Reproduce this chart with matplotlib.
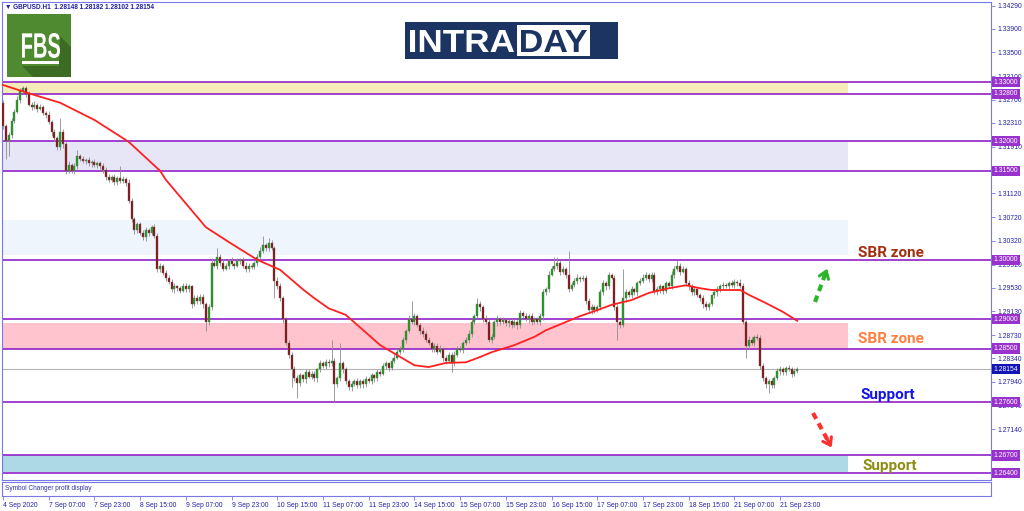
import numpy as np
import matplotlib
matplotlib.use("Agg")
import matplotlib.pyplot as plt
from matplotlib.font_manager import FontProperties
from matplotlib.textpath import TextPath
from matplotlib.patches import PathPatch, Rectangle, Polygon
from matplotlib.transforms import Affine2D, blended_transform_factory

W, H = 1024, 511

# hourly closes, in pips above 1.0000 (3225 -> 1.3225)
open_first = 3265
closes = [
    3225, 3200, 3210, 3235, 3250, 3270, 3285, 3290, 3280, 3262, 3258, 3262, 3255, 3258, 3248, 3245, 3232, 3215, 3205, 3190,
    3215, 3195, 3150, 3160, 3150, 3158, 3175, 3170, 3166, 3168, 3163, 3165, 3160, 3163, 3158, 3152, 3140, 3135, 3140, 3132,
    3138, 3133, 3137, 3130, 3100, 3068, 3050, 3060, 3045, 3038, 3050, 3045, 3055, 3040, 2985, 2990, 2978, 2970, 2962, 2950,
    2955, 2952, 2948, 2955, 2950, 2955, 2925, 2935, 2930, 2938, 2925, 2895, 2920, 2995, 2990, 3005, 2995, 2985, 2990, 2998,
    2993, 2990, 2998, 3000, 2990, 2985, 2990, 2988, 2995, 3005, 3015, 3025, 3020, 3028, 3020, 2965, 2955, 2935, 2900, 2860,
    2840, 2815, 2800, 2792, 2805, 2798, 2810, 2803, 2808, 2800, 2815, 2825, 2820, 2828, 2825, 2830, 2790, 2800, 2825, 2815,
    2795, 2785, 2790, 2795, 2788, 2795, 2790, 2798, 2795, 2805, 2800, 2810, 2808, 2820, 2825, 2818, 2830, 2835, 2845, 2850,
    2865, 2880, 2900, 2895, 2905, 2890, 2880, 2875, 2865, 2860, 2850, 2855, 2845, 2850, 2835, 2830, 2840, 2825, 2840, 2850,
    2848, 2860, 2865, 2875, 2895, 2905, 2925, 2920, 2900, 2895, 2865, 2870, 2895, 2900, 2895, 2898, 2893, 2896, 2890, 2895,
    2890, 2910, 2905, 2900, 2905, 2895, 2900, 2895, 2905, 2945, 2950, 2975, 2985, 2990, 2995, 2980, 2985, 2975, 2950, 2958,
    2965, 2970, 2968, 2970, 2930, 2915, 2920, 2915, 2920, 2945, 2960, 2955, 2975, 2970, 2920, 2895, 2890, 2935, 2945, 2940,
    2950, 2945, 2960, 2965, 2970, 2975, 2968, 2975, 2945, 2950, 2955, 2948, 2960, 2955, 2975, 2985, 2990, 2980, 2985, 2960,
    2955, 2945, 2950, 2940, 2935, 2925, 2920, 2925, 2940, 2945, 2950, 2955, 2958, 2955, 2960, 2958, 2962, 2960, 2955, 2895,
    2855, 2865, 2860, 2870, 2868, 2820, 2800, 2790, 2795, 2788, 2800, 2812, 2815, 2810, 2818, 2815, 2808, 2812, 2815.4,
]
upper_wick = [
    5, 4, 6, 5, 4, 6, 5, 4, 3, 5, 4, 6, 3, 5, 4, 3, 6, 4, 5, 4,
    25, 5, 4, 6, 3, 5, 10, 4, 5, 3, 6, 4, 5, 3, 4, 6, 5, 4, 3, 5,
    4, 20, 5, 3, 6, 4, 5, 3, 4, 6, 5, 4, 3, 6, 5, 4, 3, 5, 4, 6,
    5, 3, 4, 6, 5, 4, 3, 5, 6, 4, 5, 4, 6, 8, 5, 15, 4, 6, 5, 3,
    6, 4, 5, 3, 4, 6, 5, 4, 3, 5, 6, 15, 4, 8, 5, 4, 6, 5, 4, 3,
    5, 4, 6, 5, 4, 3, 6, 5, 4, 5, 3, 6, 4, 5, 4, 35, 5, 4, 35, 5,
    4, 3, 6, 4, 5, 3, 4, 6, 5, 4, 3, 5, 4, 6, 5, 3, 4, 6, 5, 4,
    5, 4, 6, 30, 5, 4, 3, 6, 5, 4, 3, 5, 4, 6, 3, 5, 4, 5, 6, 4,
    5, 3, 4, 6, 5, 4, 10, 5, 4, 6, 5, 4, 3, 6, 4, 5, 3, 4, 6, 5,
    4, 5, 3, 6, 4, 5, 3, 4, 6, 5, 4, 6, 5, 15, 10, 4, 5, 3, 40, 5,
    4, 6, 3, 5, 4, 6, 5, 3, 4, 5, 6, 4, 5, 3, 4, 5, 4, 50, 5, 4,
    6, 3, 5, 4, 6, 5, 3, 4, 5, 6, 4, 3, 5, 4, 6, 5, 10, 4, 5, 3,
    6, 4, 5, 3, 4, 6, 5, 4, 3, 5, 6, 4, 5, 3, 4, 6, 5, 4, 8, 5,
    4, 6, 5, 3, 4, 5, 6, 4, 3, 5, 4, 6, 5, 4, 3, 5, 4, 6, 4,
]
lower_wick = [
    4, 30, 25, 5, 4, 3, 5, 4, 6, 3, 5, 4, 6, 3, 4, 5, 3, 6, 4, 5,
    4, 6, 5, 3, 4, 6, 5, 4, 3, 5, 4, 6, 3, 5, 4, 6, 5, 3, 4, 6,
    5, 4, 3, 6, 5, 4, 6, 5, 3, 4, 6, 5, 4, 3, 5, 6, 4, 5, 3, 4,
    6, 5, 4, 3, 5, 4, 6, 3, 5, 4, 6, 15, 5, 4, 3, 6, 5, 4, 3, 5,
    4, 6, 3, 5, 4, 6, 5, 4, 3, 6, 5, 4, 6, 5, 3, 30, 4, 5, 6, 4,
    5, 30, 4, 25, 5, 4, 6, 3, 5, 4, 6, 5, 3, 4, 6, 5, 30, 4, 5, 6,
    5, 4, 6, 3, 5, 4, 6, 5, 3, 4, 6, 5, 4, 3, 5, 6, 4, 5, 3, 4,
    6, 5, 4, 3, 5, 4, 6, 5, 3, 4, 6, 5, 4, 3, 5, 6, 4, 15, 5, 4,
    3, 5, 4, 6, 5, 3, 4, 6, 5, 4, 3, 5, 4, 6, 5, 3, 4, 6, 5, 4,
    6, 5, 3, 4, 6, 5, 4, 3, 5, 6, 4, 5, 3, 4, 6, 5, 4, 6, 5, 3,
    4, 6, 5, 3, 4, 5, 6, 4, 3, 5, 4, 6, 5, 3, 4, 30, 5, 4, 6, 3,
    5, 4, 6, 3, 5, 4, 6, 5, 3, 4, 6, 5, 4, 3, 5, 6, 4, 5, 3, 4,
    6, 5, 4, 3, 5, 6, 4, 5, 3, 4, 6, 5, 4, 3, 5, 4, 6, 5, 3, 4,
    20, 5, 4, 6, 3, 5, 4, 6, 15, 5, 4, 3, 6, 5, 4, 3, 5, 4, 3,
]

# moving average read at selected bars
ma_bar = [0, 9, 20, 32, 44, 55, 57, 71, 79, 89, 97, 105, 109, 114, 120, 132, 138, 144, 149, 155,
          162, 167, 171, 179, 186, 190, 197, 202, 208, 213, 220, 226, 232, 239, 244, 248, 258, 261,
          267, 273, 278]
ma_val = [3295, 3281, 3265, 3236, 3199, 3150, 3135, 3055, 3030, 3000, 2983, 2950, 2935, 2918, 2907,
          2856, 2839, 2822, 2819, 2826, 2827, 2836, 2844, 2856, 2870, 2881, 2895, 2905, 2915, 2924,
          2932, 2944, 2951, 2957, 2952, 2949, 2949, 2941, 2927, 2912, 2897]

levels = [1.3300, 1.3280, 1.3200, 1.3150, 1.3000, 1.2900, 1.2850, 1.2760, 1.2670, 1.2640]
zones = [(1.3280, 1.3300, "#F4EBB8"), (1.3150, 1.3200, "#E6E6F7"), (1.3008, 1.3067, "#EEF5FD"),
         (1.2850, 1.2894, "#FFC4CE"), (1.2642, 1.2670, "#ADD8E6")]
price_ticks = [1.34290, 1.33900, 1.33500, 1.33100, 1.32700, 1.32310, 1.31910, 1.31510, 1.31120,
               1.30720, 1.30320, 1.29920, 1.29530, 1.29130, 1.28730, 1.28340, 1.27940, 1.27540,
               1.27140, 1.26750, 1.26350]
hidden_ticks = [1.31510, 1.26750, 1.26350]  # fully covered by level labels
time_labels = ["4 Sep 2020", "7 Sep 07:00", "7 Sep 23:00", "8 Sep 15:00", "9 Sep 07:00",
               "9 Sep 23:00", "10 Sep 15:00", "11 Sep 07:00", "11 Sep 23:00", "14 Sep 15:00",
               "15 Sep 07:00", "15 Sep 23:00", "16 Sep 15:00", "17 Sep 07:00", "17 Sep 23:00",
               "18 Sep 15:00", "21 Sep 07:00", "21 Sep 23:00"]
header = "\u25bc GBPUSD.H1  1.28148 1.28182 1.28102 1.28154"

c = 1 + np.array(closes) / 1e4
o = np.concatenate([[1 + open_first / 1e4], c[:-1]])
hi = np.maximum(o, c) + np.array(upper_wick) / 1e4
lo = np.minimum(o, c) - np.array(lower_wick) / 1e4
xb = np.arange(len(c))

fig = plt.figure(figsize=(W / 100, H / 100), dpi=100)
frame = "#7878E6"
txtblue = "#2323A8"
small = ["Liberation Sans", "DejaVu Sans"]

ax = fig.add_axes([2 / W, 1 - 480 / H, 989 / W, 478 / H])
ax.set_xlim(-0.35, 345.8)
ax.set_ylim(1.26284, 1.34350)
for s in ax.spines.values():
    s.set_color(frame)
ax.set_xticks([])
ax.yaxis.tick_right()
ax.set_yticks(price_ticks)
ax.set_yticklabels(["" if t in hidden_ticks else "%.5f" % t for t in price_ticks], family=small)
ax.tick_params(axis="y", length=3, width=0.6, color=frame, labelsize=4.9,
               labelcolor=txtblue, pad=1.5)

zone_end = (848 - 2) / 989
for a, b, col in zones:
    ax.axhspan(a, b, xmin=0, xmax=zone_end, color=col, lw=0, zorder=0.5)
for lv in levels:
    ax.axhline(lv, color="#9932CC", lw=1.3, zorder=2)
ax.axhline(c[-1], color="#B4B4B4", lw=0.8, zorder=1)

# candles
up = c >= o
ax.vlines(xb, lo, hi, color="#8C8C8C", lw=0.6, zorder=3)
ax.bar(xb, c - o, bottom=o, width=0.72, color=np.where(up, "#16A016", "#8B0A0A"),
       edgecolor="#6E6E6E", lw=0.3, zorder=3.5)

ax.plot(ma_bar, 1 + np.array(ma_val) / 1e4, color="#FF2020", lw=1.3, zorder=4)

# level labels on the price scale
trans = blended_transform_factory(ax.transAxes, ax.transData)
for lv in levels:
    ax.text(1.0025, lv, "%.5f" % lv, transform=trans, fontsize=4.9, family=small, color="white",
            va="center", ha="left", clip_on=False, zorder=6,
            bbox=dict(boxstyle="square,pad=0.25", fc="#9932CC", ec="none"))
ax.text(1.0025, c[-1], "%.5f" % c[-1], transform=trans, fontsize=4.9, family=small, color="white",
        va="center", ha="left", clip_on=False, zorder=6,
        bbox=dict(boxstyle="square,pad=0.25", fc="#1414B4", ec="none"))

# zone captions
ax.text(299.3, 1.30047, "SBR zone", fontsize=11, fontweight="bold", family="Roboto", color="#A3300F")
ax.text(299.3, 1.28596, "SBR zone", fontsize=11, fontweight="bold", family="Roboto", color="#FF8040")
ax.text(300.0, 1.27651, "Support", fontsize=11, fontweight="bold", family="Roboto", color="#1414E6")
ax.text(301.0, 1.26453, "Support", fontsize=11, fontweight="bold", family="Roboto", color="#8E8E14")

# dashed direction arrows
for (x0, y0), (x1, y1), col in [((284.2, 1.29288), (288.8, 1.29895), "#2DB42D"),
                                ((283.5, 1.27414), (290.5, 1.26790), "#FF3030")]:
    ax.plot([x0, x0 + 0.8 * (x1 - x0)], [y0, y0 + 0.8 * (y1 - y0)], color=col, lw=3,
            ls=(0, (1.6, 1.2)), zorder=5)
    ax.annotate("", xy=(x1, y1), xytext=(x0 + 0.6 * (x1 - x0), y0 + 0.6 * (y1 - y0)),
                arrowprops=dict(arrowstyle="->,head_length=0.5,head_width=0.35", color=col, lw=2.2),
                zorder=5)

fig.text(5 / W, 1 - 7 / H, header, fontsize=4.7, family=small, color="#1E1EA0",
         fontweight="bold", va="center")

# indicator window
axi = fig.add_axes([2 / W, 1 - 496 / H, 989 / W, 14 / H])
axi.set_xlim(-0.35, 345.8)
axi.set_ylim(0, 1)
for s in axi.spines.values():
    s.set_color(frame)
axi.set_yticks([])
axi.set_xticks(np.arange(len(time_labels)) * 16)
axi.set_xticklabels(time_labels, family=small)
axi.tick_params(axis="x", length=3, width=0.6, color=frame, labelsize=4.9,
                labelcolor=txtblue, pad=1.5)
for lab in axi.get_xticklabels():
    lab.set_ha("left")
axi.text(0.003, 0.5, "Symbol Changer profit display", transform=axi.transAxes,
         fontsize=4.7, family=small, color="#3030B0", va="center")


def px(x, y):
    return x / W, 1 - y / H


def rect(x0, y0, x1, y1, col):
    fig.add_artist(Rectangle(px(x0, y1), (x1 - x0) / W, (y1 - y0) / H, fc=col, ec="none",
                             transform=fig.transFigure))


def fit_text(s, x0, y0, x1, y1, col):
    tp = TextPath((0, 0), s, size=100, prop=FontProperties(family="Liberation Sans", weight="bold"))
    e = tp.get_extents()
    tr = (Affine2D().translate(-e.x0, -e.y0)
          .scale((x1 - x0) / e.width / W, (y1 - y0) / e.height / H)
          .translate(x0 / W, 1 - y1 / H))
    fig.add_artist(PathPatch(tr.transform_path(tp), fc=col, ec="none", transform=fig.transFigure))


# FBS logo
rect(7, 14, 71, 77, "#4F8A30")
fig.add_artist(Polygon([px(60, 36), px(71, 47), px(71, 77), px(33, 77), px(22, 66), px(59, 66)],
                       closed=True, fc="#3C6C24", ec="none", transform=fig.transFigure))
fit_text("FBS", 22, 33, 60, 58, "white")
rect(22, 61, 59, 64, "white")

# INTRADAY logo
rect(405, 22, 618, 59, "#1C3461")
fit_text("INTRA", 410, 30, 514, 52, "white")
rect(517, 25, 590, 56, "white")
fit_text("DAY", 521, 30, 587, 52, "#1C3461")
ax.annotate("", xy=(614, H - 25), xytext=(594, H - 40), xycoords="figure pixels",
            textcoords="figure pixels",
            arrowprops=dict(arrowstyle="simple,head_length=0.7,head_width=0.9,tail_width=0.45",
                            color="#19C8D2", lw=0), annotation_clip=False)
ax.annotate("", xy=(594, H - 56), xytext=(616, H - 42), xycoords="figure pixels",
            textcoords="figure pixels",
            arrowprops=dict(arrowstyle="simple,head_length=0.7,head_width=0.9,tail_width=0.45",
                            color="#F01EC8", lw=0), annotation_clip=False)

fig.savefig("out.png", dpi=100)
